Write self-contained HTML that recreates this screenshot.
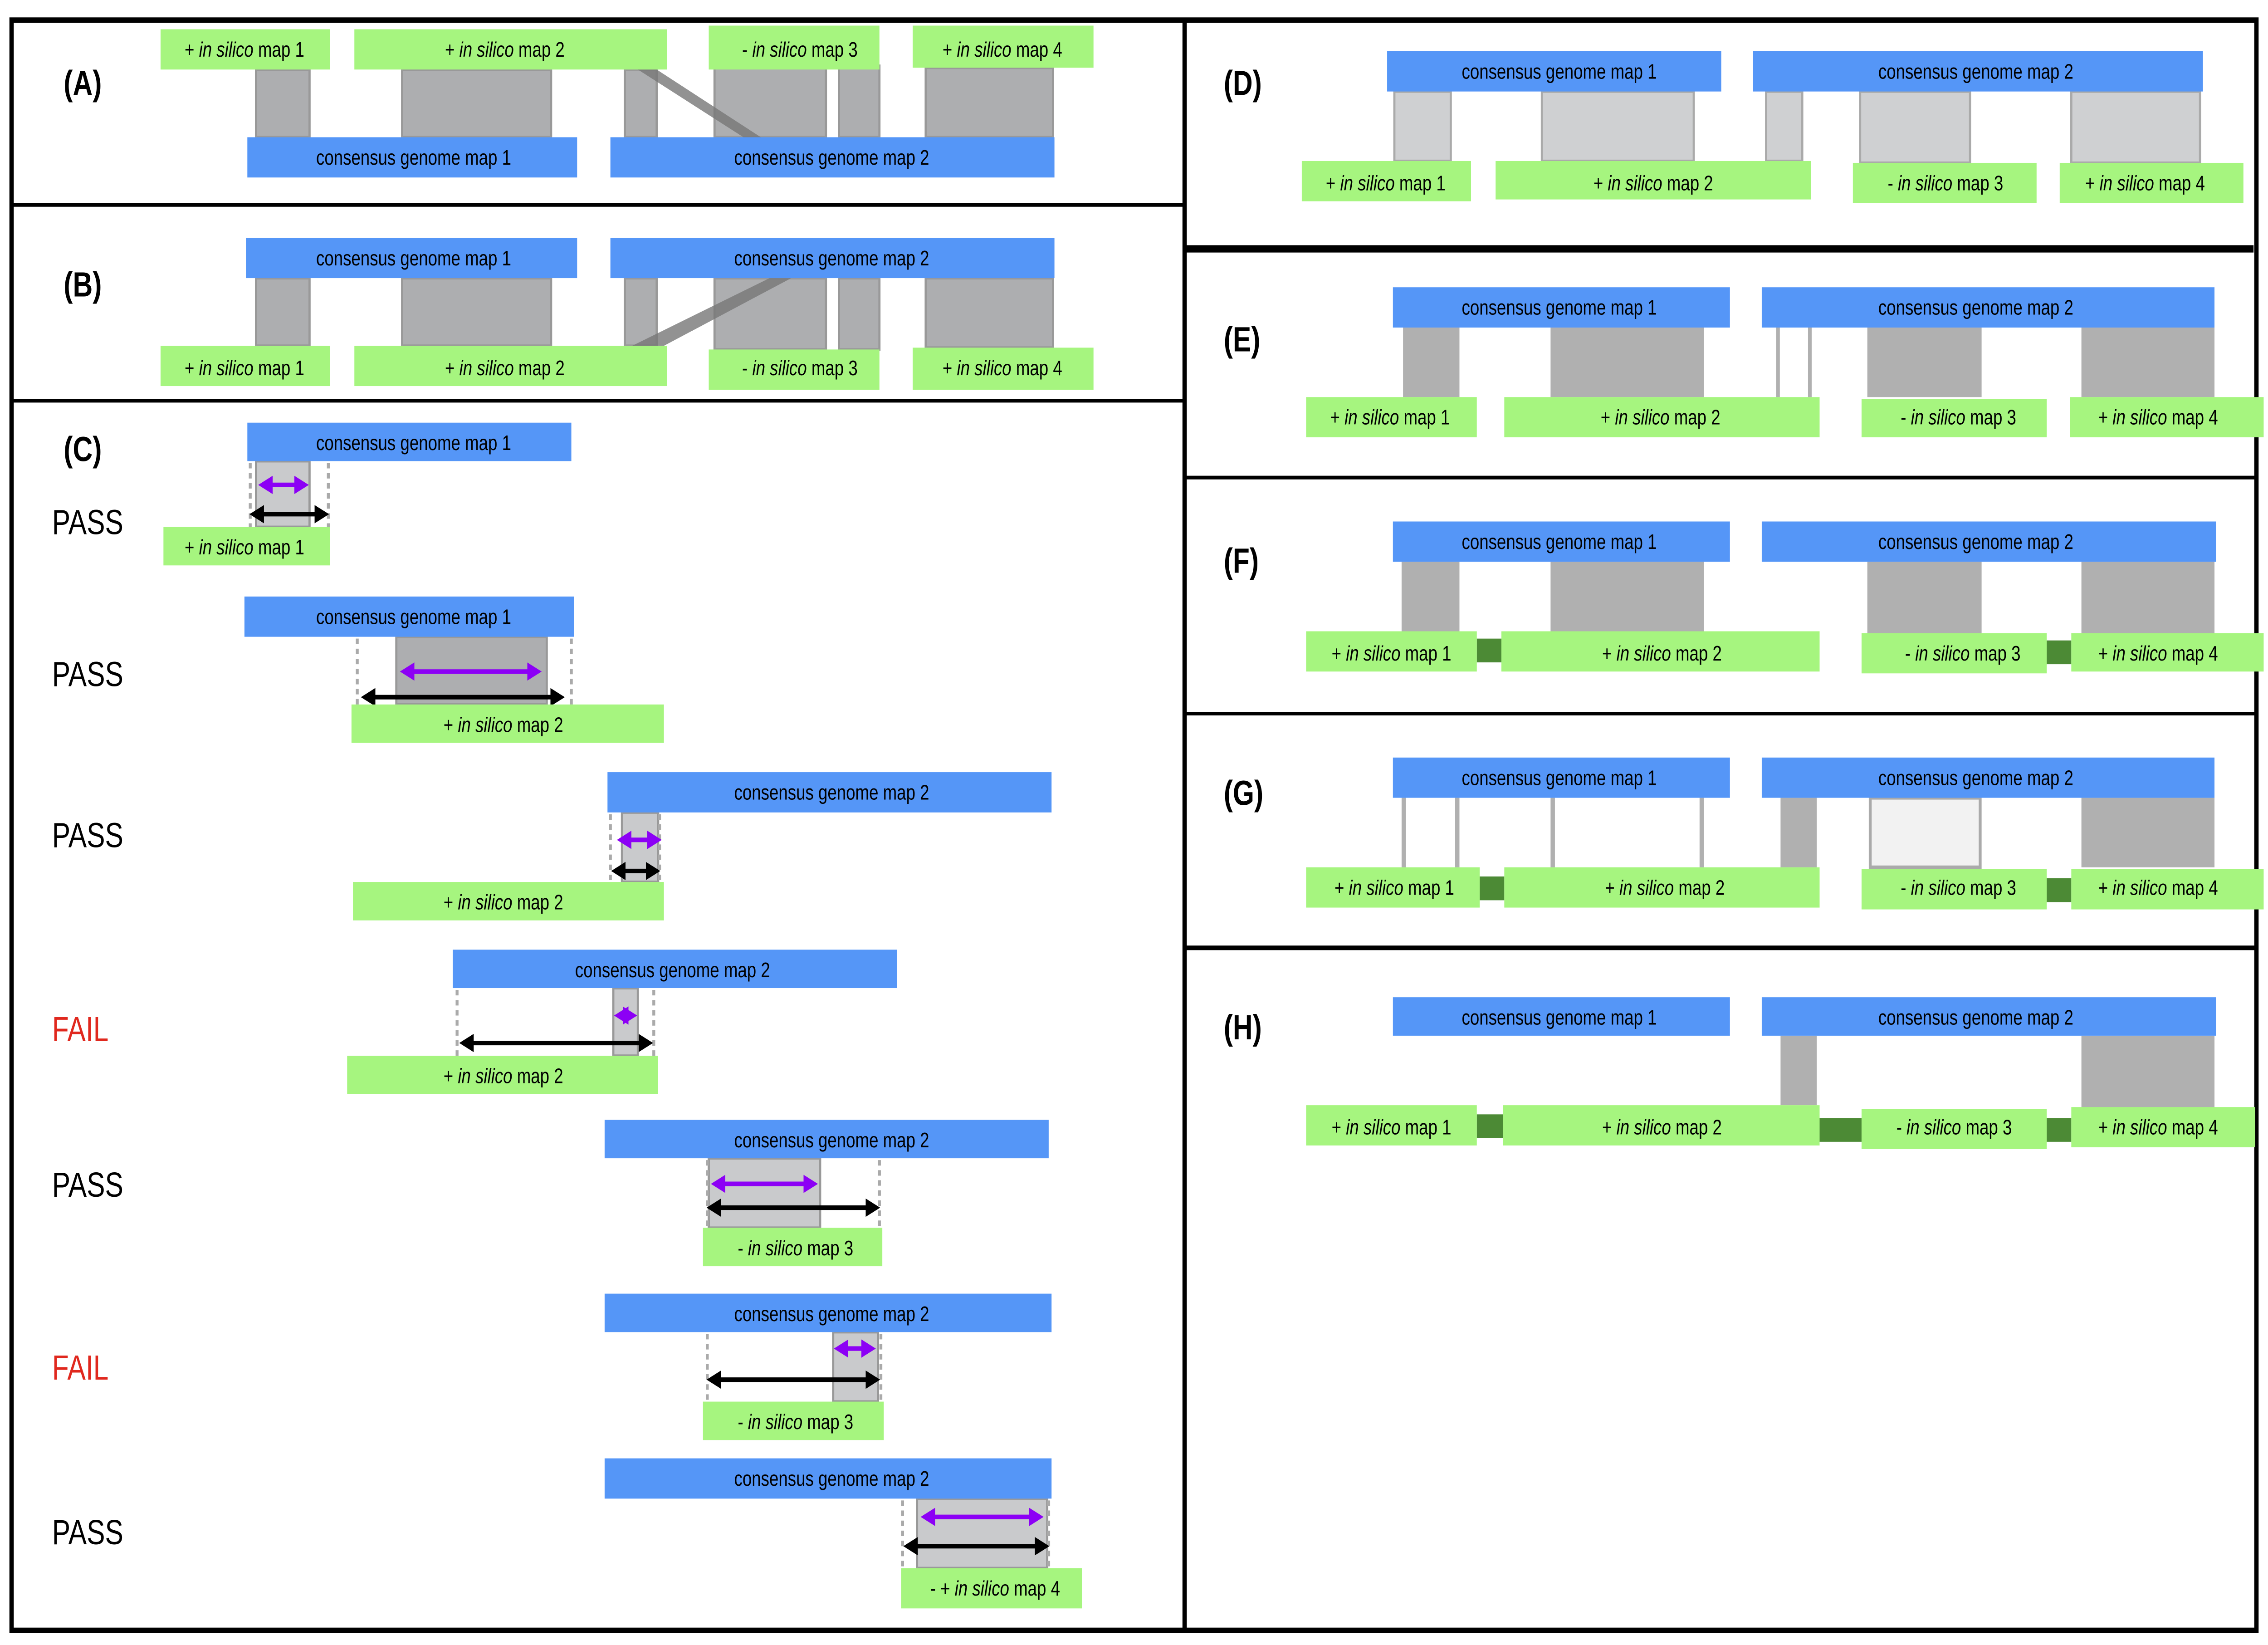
<!DOCTYPE html>
<html><head><meta charset="utf-8"><style>
html,body{margin:0;padding:0;background:#fff;width:100%;height:100%;overflow:hidden;}
svg{display:block;width:100vw;height:100vh;}
text{font-family:"Liberation Sans",sans-serif;}
.l{font-size:11.5px;text-anchor:middle;fill:#000;}
.p{font-size:19px;font-weight:bold;}
.s{font-size:19px;}
</style></head><body>
<svg viewBox="0 0 1568 899" preserveAspectRatio="none" xmlns="http://www.w3.org/2000/svg">
<defs>
<marker id="ab" markerWidth="4" markerHeight="4" refX="3" refY="2" orient="auto-start-reverse" markerUnits="strokeWidth"><path d="M0,0 L4,2 L0,4 Z" fill="#000"/></marker>
<marker id="ap" markerWidth="4" markerHeight="4" refX="3" refY="2" orient="auto-start-reverse" markerUnits="strokeWidth"><path d="M0,0 L4,2 L0,4 Z" fill="#8c00f5"/></marker>
</defs>
<rect width="1568" height="899" fill="#fff"/>

<g fill="none" stroke="#000">
<rect x="8" y="11" width="1552" height="880" stroke-width="3"/>
<line x1="819" y1="10" x2="819" y2="892" stroke-width="3"/>
<line x1="8" y1="112" x2="819" y2="112" stroke-width="2"/>
<line x1="8" y1="219" x2="819" y2="219" stroke-width="2"/>
<line x1="819" y1="136" x2="1558" y2="136" stroke-width="4"/>
<line x1="819" y1="261" x2="1560" y2="261" stroke-width="2"/>
<line x1="819" y1="390" x2="1560" y2="390" stroke-width="2"/>
<line x1="819" y1="518" x2="1560" y2="518" stroke-width="2.5"/>
</g>

<text class="p" x="44" y="52">(A)</text>
<text class="p" x="44" y="162">(B)</text>
<text class="p" x="44" y="252">(C)</text>
<text class="p" x="846" y="52">(D)</text>
<text class="p" x="846" y="192">(E)</text>
<text class="p" x="846" y="313">(F)</text>
<text class="p" x="846" y="440">(G)</text>
<text class="p" x="846" y="568">(H)</text>

<!-- A -->
<g fill="#adaeb0" stroke="#999" stroke-width="1.5">
<rect x="177" y="38" width="37" height="37"/>
<rect x="278" y="38" width="103" height="37"/>
<rect x="432" y="38" width="22" height="37"/>
<rect x="494" y="36" width="77" height="39"/>
<rect x="580" y="36" width="28" height="39"/>
<rect x="640" y="37" width="88" height="38"/>
</g>
<polygon points="441,38 454,38 526,75 514,75" fill="#777" opacity="0.8"/>
<g fill="#a6f57f">
<rect x="111" y="16" width="117" height="22"/>
<rect x="245" y="16" width="216" height="22"/>
<rect x="490" y="14" width="118" height="24"/>
<rect x="631" y="14" width="125" height="23"/>
</g>
<g fill="#5596f7">
<rect x="171" y="75" width="228" height="22"/>
<rect x="422" y="75" width="307" height="22"/>
</g>
<text class="l" x="169" y="31">+ <tspan font-style="italic">in silico</tspan> map 1</text>
<text class="l" x="349" y="31">+ <tspan font-style="italic">in silico</tspan> map 2</text>
<text class="l" x="553" y="31">- <tspan font-style="italic">in silico</tspan> map 3</text>
<text class="l" x="693" y="31">+ <tspan font-style="italic">in silico</tspan> map 4</text>
<text class="l" x="286" y="90">consensus genome map 1</text>
<text class="l" x="575" y="90">consensus genome map 2</text>

<!-- B -->
<g fill="#adaeb0" stroke="#999" stroke-width="1.5">
<rect x="177" y="152" width="37" height="37"/>
<rect x="278" y="152" width="103" height="37"/>
<rect x="432" y="152" width="22" height="37"/>
<rect x="494" y="152" width="77" height="39"/>
<rect x="580" y="152" width="28" height="39"/>
<rect x="640" y="152" width="88" height="38"/>
</g>
<polygon points="437,189 459,189 547,152 532,152" fill="#777" opacity="0.8"/>
<g fill="#5596f7">
<rect x="170" y="130" width="229" height="22"/>
<rect x="422" y="130" width="307" height="22"/>
</g>
<g fill="#a6f57f">
<rect x="111" y="189" width="117" height="22"/>
<rect x="245" y="189" width="216" height="22"/>
<rect x="490" y="191" width="118" height="22"/>
<rect x="631" y="190" width="125" height="23"/>
</g>
<text class="l" x="286" y="145">consensus genome map 1</text>
<text class="l" x="575" y="145">consensus genome map 2</text>
<text class="l" x="169" y="205">+ <tspan font-style="italic">in silico</tspan> map 1</text>
<text class="l" x="349" y="205">+ <tspan font-style="italic">in silico</tspan> map 2</text>
<text class="l" x="553" y="205">- <tspan font-style="italic">in silico</tspan> map 3</text>
<text class="l" x="693" y="205">+ <tspan font-style="italic">in silico</tspan> map 4</text>

<!-- C -->
<text class="s" x="36" y="292">PASS</text>
<text class="s" x="36" y="375">PASS</text>
<text class="s" x="36" y="463">PASS</text>
<text class="s" x="36" y="569" fill="#e0281e">FAIL</text>
<text class="s" x="36" y="654">PASS</text>
<text class="s" x="36" y="754" fill="#e0281e">FAIL</text>
<text class="s" x="36" y="844">PASS</text>
<g stroke="#999" stroke-width="1.5">
<rect x="177" y="252" width="37" height="36" fill="#c9cacc"/>
<rect x="274" y="348" width="104" height="37" fill="#adaeb0"/>
<rect x="430" y="444" width="25" height="38" fill="#c9cacc"/>
<rect x="424" y="540" width="17" height="37" fill="#c9cacc"/>
<rect x="490" y="633" width="77" height="38" fill="#c9cacc"/>
<rect x="576" y="728" width="31" height="38" fill="#c9cacc"/>
<rect x="634" y="819" width="90" height="38" fill="#c9cacc"/>
</g>
<g stroke="#aaa" stroke-width="2" stroke-dasharray="3,2.5">
<line x1="173" y1="253" x2="173" y2="288"/><line x1="227" y1="253" x2="227" y2="288"/>
<line x1="247" y1="349" x2="247" y2="385"/><line x1="395" y1="349" x2="395" y2="385"/>
<line x1="422" y1="445" x2="422" y2="482"/><line x1="456" y1="445" x2="456" y2="482"/>
<line x1="316" y1="541" x2="316" y2="577"/><line x1="452" y1="541" x2="452" y2="577"/>
<line x1="489" y1="634" x2="489" y2="671"/><line x1="608" y1="634" x2="608" y2="671"/>
<line x1="489" y1="729" x2="489" y2="766"/><line x1="609" y1="729" x2="609" y2="766"/>
<line x1="624" y1="820" x2="624" y2="857"/><line x1="725" y1="820" x2="725" y2="857"/>
</g>
<g stroke="#8c00f5" stroke-width="2.5" marker-start="url(#ap)" marker-end="url(#ap)">
<line x1="181" y1="265" x2="211" y2="265"/>
<line x1="279" y1="367" x2="372" y2="367"/>
<line x1="429" y1="459" x2="455" y2="459"/>
<line x1="427" y1="555" x2="438" y2="555"/>
<line x1="494" y1="647" x2="563" y2="647"/>
<line x1="579" y1="737" x2="603" y2="737"/>
<line x1="639" y1="829" x2="719" y2="829"/>
</g>
<g stroke="#000" stroke-width="2.5" marker-start="url(#ab)" marker-end="url(#ab)">
<line x1="175" y1="281" x2="225" y2="281"/>
<line x1="252" y1="381" x2="388" y2="381"/>
<line x1="425" y1="476" x2="454" y2="476"/>
<line x1="320" y1="570" x2="449" y2="570"/>
<line x1="491" y1="660" x2="606" y2="660"/>
<line x1="491" y1="754" x2="606" y2="754"/>
<line x1="627" y1="845" x2="723" y2="845"/>
</g>
<g fill="#5596f7">
<rect x="171" y="231" width="224" height="21"/>
<rect x="169" y="326" width="228" height="22"/>
<rect x="420" y="422" width="307" height="22"/>
<rect x="313" y="519" width="307" height="21"/>
<rect x="418" y="612" width="307" height="21"/>
<rect x="418" y="707" width="309" height="21"/>
<rect x="418" y="797" width="309" height="22"/>
</g>
<g fill="#a6f57f">
<rect x="113" y="288" width="115" height="21"/>
<rect x="243" y="385" width="216" height="21"/>
<rect x="244" y="482" width="215" height="21"/>
<rect x="240" y="577" width="215" height="21"/>
<rect x="486" y="671" width="124" height="21"/>
<rect x="486" y="766" width="125" height="21"/>
<rect x="623" y="857" width="125" height="22"/>
</g>
<text class="l" x="286" y="246">consensus genome map 1</text>
<text class="l" x="286" y="341">consensus genome map 1</text>
<text class="l" x="575" y="437">consensus genome map 2</text>
<text class="l" x="465" y="534">consensus genome map 2</text>
<text class="l" x="575" y="627">consensus genome map 2</text>
<text class="l" x="575" y="722">consensus genome map 2</text>
<text class="l" x="575" y="812">consensus genome map 2</text>
<text class="l" x="169" y="303">+ <tspan font-style="italic">in silico</tspan> map 1</text>
<text class="l" x="348" y="400">+ <tspan font-style="italic">in silico</tspan> map 2</text>
<text class="l" x="348" y="497">+ <tspan font-style="italic">in silico</tspan> map 2</text>
<text class="l" x="348" y="592">+ <tspan font-style="italic">in silico</tspan> map 2</text>
<text class="l" x="550" y="686">- <tspan font-style="italic">in silico</tspan> map 3</text>
<text class="l" x="550" y="781">- <tspan font-style="italic">in silico</tspan> map 3</text>
<text class="l" x="688" y="872">- + <tspan font-style="italic">in silico</tspan> map 4</text>

<!-- D -->
<g fill="#cfd0d2" stroke="#aaa" stroke-width="1.5">
<rect x="964" y="50" width="39" height="38"/>
<rect x="1066" y="50" width="105" height="38"/>
<rect x="1221" y="50" width="25" height="38"/>
<rect x="1286" y="50" width="76" height="39"/>
<rect x="1432" y="50" width="89" height="39"/>
</g>
<g fill="#5596f7"><rect x="959" y="28" width="231" height="22"/><rect x="1212" y="28" width="311" height="22"/></g>
<g fill="#a6f57f">
<rect x="900" y="88" width="117" height="22"/><rect x="1034" y="88" width="218" height="21"/>
<rect x="1281" y="89" width="127" height="22"/><rect x="1424" y="89" width="127" height="22"/>
</g>
<text class="l" x="1078" y="43">consensus genome map 1</text>
<text class="l" x="1366" y="43">consensus genome map 2</text>
<text class="l" x="958" y="104">+ <tspan font-style="italic">in silico</tspan> map 1</text>
<text class="l" x="1143" y="104">+ <tspan font-style="italic">in silico</tspan> map 2</text>
<text class="l" x="1345" y="104">- <tspan font-style="italic">in silico</tspan> map 3</text>
<text class="l" x="1483" y="104">+ <tspan font-style="italic">in silico</tspan> map 4</text>

<!-- E -->
<g fill="#b0b0b0">
<rect x="970" y="179" width="39" height="38"/><rect x="1072" y="179" width="106" height="38"/>
<rect x="1228" y="179" width="2.5" height="38"/><rect x="1250" y="179" width="2.5" height="38"/>
<rect x="1291" y="179" width="79" height="38"/><rect x="1439" y="179" width="92" height="38"/>
</g>
<g fill="#5596f7"><rect x="963" y="157" width="233" height="22"/><rect x="1218" y="157" width="313" height="22"/></g>
<g fill="#a6f57f">
<rect x="903" y="217" width="118" height="22"/><rect x="1040" y="217" width="218" height="22"/>
<rect x="1287" y="218" width="128" height="21"/><rect x="1431" y="217" width="134" height="22"/>
</g>
<text class="l" x="1078" y="172">consensus genome map 1</text>
<text class="l" x="1366" y="172">consensus genome map 2</text>
<text class="l" x="961" y="232">+ <tspan font-style="italic">in silico</tspan> map 1</text>
<text class="l" x="1148" y="232">+ <tspan font-style="italic">in silico</tspan> map 2</text>
<text class="l" x="1354" y="232">- <tspan font-style="italic">in silico</tspan> map 3</text>
<text class="l" x="1492" y="232">+ <tspan font-style="italic">in silico</tspan> map 4</text>

<!-- F -->
<g fill="#b0b0b0">
<rect x="969" y="307" width="40" height="38"/><rect x="1072" y="307" width="106" height="38"/>
<rect x="1291" y="307" width="79" height="39"/><rect x="1439" y="307" width="92" height="39"/>
</g>
<g fill="#4c8a35"><rect x="1021" y="349" width="17" height="13"/><rect x="1415" y="350" width="17" height="13"/></g>
<g fill="#5596f7"><rect x="963" y="285" width="233" height="22"/><rect x="1218" y="285" width="314" height="22"/></g>
<g fill="#a6f57f">
<rect x="903" y="345" width="118" height="22"/><rect x="1038" y="345" width="220" height="22"/>
<rect x="1287" y="346" width="128" height="22"/><rect x="1432" y="346" width="133" height="21"/>
</g>
<text class="l" x="1078" y="300">consensus genome map 1</text>
<text class="l" x="1366" y="300">consensus genome map 2</text>
<text class="l" x="962" y="361">+ <tspan font-style="italic">in silico</tspan> map 1</text>
<text class="l" x="1149" y="361">+ <tspan font-style="italic">in silico</tspan> map 2</text>
<text class="l" x="1357" y="361">- <tspan font-style="italic">in silico</tspan> map 3</text>
<text class="l" x="1492" y="361">+ <tspan font-style="italic">in silico</tspan> map 4</text>

<!-- G -->
<g fill="#b0b0b0">
<rect x="969" y="436" width="3" height="38"/><rect x="1006" y="436" width="3" height="38"/>
<rect x="1072" y="436" width="3" height="38"/><rect x="1175" y="436" width="3" height="38"/>
<rect x="1231" y="436" width="25" height="38"/>
<rect x="1439" y="436" width="92" height="38"/>
</g>
<rect x="1293" y="436" width="76" height="38" fill="#f2f2f2" stroke="#aaa" stroke-width="2"/>
<g fill="#4c8a35"><rect x="1023" y="479" width="17" height="13"/><rect x="1415" y="480" width="17" height="13"/></g>
<g fill="#5596f7"><rect x="963" y="414" width="233" height="22"/><rect x="1218" y="414" width="313" height="22"/></g>
<g fill="#a6f57f">
<rect x="903" y="474" width="120" height="22"/><rect x="1040" y="474" width="218" height="22"/>
<rect x="1287" y="475" width="128" height="22"/><rect x="1432" y="475" width="133" height="22"/>
</g>
<text class="l" x="1078" y="429">consensus genome map 1</text>
<text class="l" x="1366" y="429">consensus genome map 2</text>
<text class="l" x="964" y="489">+ <tspan font-style="italic">in silico</tspan> map 1</text>
<text class="l" x="1151" y="489">+ <tspan font-style="italic">in silico</tspan> map 2</text>
<text class="l" x="1354" y="489">- <tspan font-style="italic">in silico</tspan> map 3</text>
<text class="l" x="1492" y="489">+ <tspan font-style="italic">in silico</tspan> map 4</text>

<!-- H -->
<g fill="#b0b0b0"><rect x="1231" y="566" width="25" height="38"/><rect x="1439" y="566" width="92" height="40"/></g>
<g fill="#4c8a35">
<rect x="1021" y="609" width="18" height="13"/><rect x="1258" y="611" width="29" height="13"/><rect x="1415" y="611" width="17" height="13"/>
</g>
<g fill="#5596f7"><rect x="963" y="545" width="233" height="21"/><rect x="1218" y="545" width="314" height="21"/></g>
<g fill="#a6f57f">
<rect x="903" y="604" width="118" height="22"/><rect x="1039" y="604" width="219" height="22"/>
<rect x="1287" y="606" width="128" height="22"/><rect x="1432" y="605" width="127" height="22"/>
</g>
<text class="l" x="1078" y="560">consensus genome map 1</text>
<text class="l" x="1366" y="560">consensus genome map 2</text>
<text class="l" x="962" y="620">+ <tspan font-style="italic">in silico</tspan> map 1</text>
<text class="l" x="1149" y="620">+ <tspan font-style="italic">in silico</tspan> map 2</text>
<text class="l" x="1351" y="620">- <tspan font-style="italic">in silico</tspan> map 3</text>
<text class="l" x="1492" y="620">+ <tspan font-style="italic">in silico</tspan> map 4</text>
</svg>
</body></html>
